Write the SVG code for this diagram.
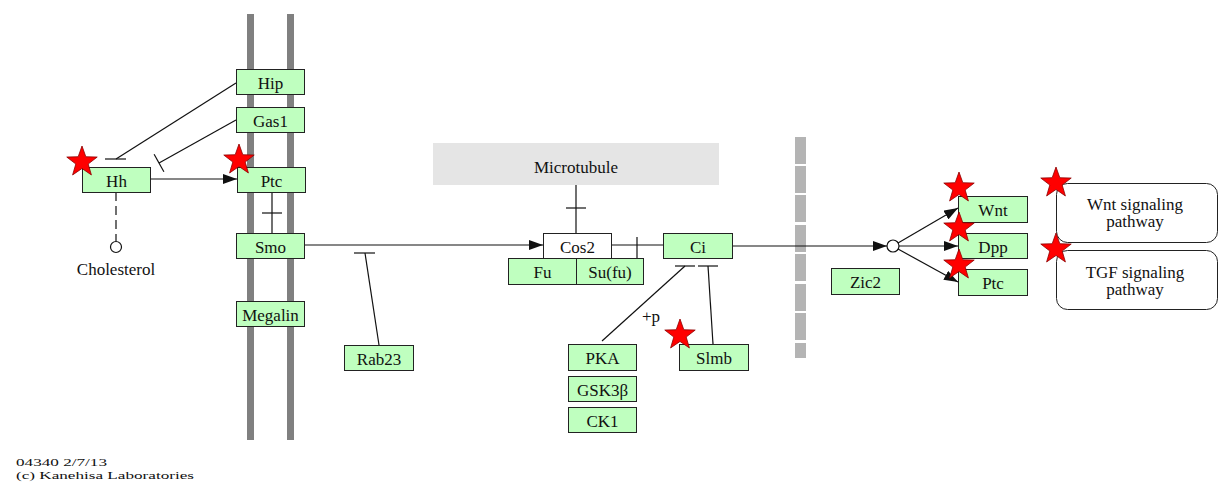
<svg xmlns="http://www.w3.org/2000/svg" width="1221" height="488" viewBox="0 0 1221 488">
  <style>
    .gene rect { fill: #bfffbf; stroke: #222; stroke-width: 1; }
    .plain rect { fill: #ffffff; stroke: #222; stroke-width: 1; }
    .path rect { fill: #ffffff; stroke: #222; stroke-width: 1; }
    text { font-family: "Liberation Serif", "Times New Roman", serif; font-size: 17px; fill: #111; }
    .lbl { text-anchor: middle; }
    .edge { stroke: #111; stroke-width: 1.2; fill: none; }
    .bar { stroke: #111; stroke-width: 1.2; }
    .star { fill: #ff0000; stroke: #8a0000; stroke-width: 0.8; }
    .foot { font-size: 11px; }
  </style>
  <defs>
    <marker id="arrow" markerUnits="userSpaceOnUse" markerWidth="14" markerHeight="10" refX="14" refY="5" orient="auto">
      <path d="M0,0 L14,5 L0,10 Z" fill="#111"/>
    </marker>
    <polygon id="star" class="star" points="0,-16 3.82,-5.26 15.22,-4.94 6.18,2.01 9.4,12.94 0,6.5 -9.4,12.94 -6.18,2.01 -15.22,-4.94 -3.82,-5.26"/>
  </defs>

  <rect width="1221" height="488" fill="#ffffff"/>

  <!-- cell membrane -->
  <g id="membrane" fill="#808080">
    <rect x="247" y="14" width="7" height="426"/>
    <rect x="287" y="14" width="7" height="426"/>
  </g>

  <!-- nuclear envelope -->
  <g id="nucleus" fill="#b4b4b4">
    <rect x="795" y="137" width="11" height="27"/>
    <rect x="795" y="166" width="11" height="27"/>
    <rect x="795" y="195" width="11" height="27"/>
    <rect x="795" y="225" width="11" height="27"/>
    <rect x="795" y="254" width="11" height="27"/>
    <rect x="795" y="284" width="11" height="27"/>
    <rect x="795" y="313" width="11" height="27"/>
    <rect x="795" y="343" width="11" height="15"/>
  </g>

  <!-- microtubule -->
  <g id="microtubule">
    <rect x="433" y="143" width="286" height="42" fill="#e5e5e5"/>
    <text class="lbl" x="576" y="173">Microtubule</text>
  </g>

  <!-- connectors -->
  <g id="connectors">
    <!-- Hip -| Hh -->
    <line class="edge" x1="236" y1="83" x2="116" y2="159"/>
    <line class="bar" x1="105" y1="159" x2="126" y2="159"/>
    <!-- Gas1 -| -->
    <line class="edge" x1="236" y1="120" x2="159" y2="163"/>
    <line class="bar" x1="154.1" y1="154.3" x2="163.9" y2="171.7"/>
    <!-- Hh -> Ptc -->
    <line class="edge" x1="150" y1="179" x2="237" y2="179" marker-end="url(#arrow)"/>
    <!-- Hh - - Cholesterol -->
    <line class="edge" x1="116" y1="192" x2="116" y2="241" stroke-dasharray="9,5"/>
    <circle cx="116" cy="247" r="5.5" fill="#fff" stroke="#111" stroke-width="1.2"/>
    <!-- Ptc -+- Smo -->
    <line class="edge" x1="272" y1="192" x2="272" y2="233"/>
    <line class="bar" x1="262" y1="213" x2="282" y2="213"/>
    <!-- Smo -> Cos2 -->
    <line class="edge" x1="304" y1="245" x2="543" y2="245" marker-end="url(#arrow)"/>
    <!-- Rab23 -| -->
    <line class="edge" x1="379" y1="345" x2="365" y2="253"/>
    <line class="bar" x1="354" y1="253" x2="375" y2="253"/>
    <!-- Microtubule -+- Cos2 -->
    <line class="edge" x1="576" y1="185" x2="576" y2="233"/>
    <line class="bar" x1="566" y1="208" x2="586" y2="208"/>
    <!-- Cos2 -| Ci -->
    <line class="edge" x1="611" y1="245" x2="663" y2="245"/>
    <line class="bar" x1="637" y1="237" x2="637" y2="258"/>
    <!-- PKA -| Ci (+p) -->
    <line class="edge" x1="602" y1="341" x2="685" y2="266"/>
    <line class="bar" x1="675" y1="266" x2="695" y2="266"/>
    <text x="642" y="322">+p</text>
    <!-- Slmb -| Ci -->
    <line class="edge" x1="713" y1="344" x2="708" y2="266"/>
    <line class="bar" x1="698" y1="266" x2="718" y2="266"/>
    <!-- Ci -> target genes -->
    <line class="edge" x1="732" y1="246" x2="887" y2="246" marker-end="url(#arrow)"/>
    <circle cx="893" cy="246" r="6" fill="#fff" stroke="#111" stroke-width="1.2"/>
    <line class="edge" x1="898" y1="243" x2="958" y2="208" marker-end="url(#arrow)"/>
    <line class="edge" x1="899" y1="246" x2="958" y2="246" marker-end="url(#arrow)"/>
    <line class="edge" x1="898" y1="249" x2="958" y2="282" marker-end="url(#arrow)"/>
  </g>

  <!-- nodes -->
  <g id="hip" class="gene"><rect x="236.5" y="69.5" width="68" height="25"/><text class="lbl" x="270.5" y="89">Hip</text></g>
  <g id="gas1" class="gene"><rect x="236.5" y="107.5" width="68" height="25"/><text class="lbl" x="270.5" y="127">Gas1</text></g>
  <g id="hh" class="gene"><rect x="82.5" y="167.5" width="68" height="25"/><text class="lbl" x="116.5" y="187">Hh</text></g>
  <g id="ptc-membrane" class="gene"><rect x="237.5" y="167.5" width="68" height="25"/><text class="lbl" x="271.5" y="187">Ptc</text></g>
  <g id="smo" class="gene"><rect x="236.5" y="233.5" width="68" height="25"/><text class="lbl" x="270.5" y="253">Smo</text></g>
  <g id="megalin" class="gene"><rect x="236.5" y="301.5" width="68" height="25"/><text class="lbl" x="270.5" y="321">Megalin</text></g>
  <g id="rab23" class="gene"><rect x="344.5" y="345.5" width="69" height="25"/><text class="lbl" x="379" y="365">Rab23</text></g>
  <g id="cos2" class="plain"><rect x="543.5" y="233.5" width="68" height="25"/><text class="lbl" x="577.5" y="253">Cos2</text></g>
  <g id="fu" class="gene"><rect x="508.5" y="258.5" width="68" height="26"/><text class="lbl" x="542.5" y="278">Fu</text></g>
  <g id="sufu" class="gene"><rect x="576.5" y="258.5" width="67" height="26"/><text class="lbl" x="610" y="278">Su(fu)</text></g>
  <g id="ci" class="gene"><rect x="663.5" y="233.5" width="69" height="25"/><text class="lbl" x="698" y="253">Ci</text></g>
  <g id="pka" class="gene"><rect x="568.5" y="344.5" width="68" height="26"/><text class="lbl" x="602.5" y="364">PKA</text></g>
  <g id="gsk3b" class="gene"><rect x="568.5" y="376.5" width="68" height="25"/><text class="lbl" x="602.5" y="396">GSK3β</text></g>
  <g id="ck1" class="gene"><rect x="568.5" y="407.5" width="68" height="25"/><text class="lbl" x="602.5" y="427">CK1</text></g>
  <g id="slmb" class="gene"><rect x="679.5" y="344.5" width="69" height="26"/><text class="lbl" x="714" y="364">Slmb</text></g>
  <g id="zic2" class="gene"><rect x="831.5" y="268.5" width="68" height="26"/><text class="lbl" x="865.5" y="288">Zic2</text></g>
  <g id="wnt" class="gene"><rect x="958.5" y="196.5" width="69" height="26"/><text class="lbl" x="993" y="216">Wnt</text></g>
  <g id="dpp" class="gene"><rect x="958.5" y="233.5" width="69" height="25"/><text class="lbl" x="993" y="253">Dpp</text></g>
  <g id="ptc-target" class="gene"><rect x="958.5" y="269.5" width="69" height="26"/><text class="lbl" x="993" y="289">Ptc</text></g>
  <g id="cholesterol"><text class="lbl" x="116" y="275">Cholesterol</text></g>
  <g id="wnt-pathway" class="path"><rect x="1056.5" y="183.5" width="161" height="59" rx="11"/><text class="lbl" x="1135" y="210">Wnt signaling</text><text class="lbl" x="1135" y="227">pathway</text></g>
  <g id="tgf-pathway" class="path"><rect x="1056.5" y="250.5" width="161" height="59" rx="11"/><text class="lbl" x="1135" y="278">TGF signaling</text><text class="lbl" x="1135" y="295">pathway</text></g>

  <!-- highlight marks -->
  <g id="marks">
    <use href="#star" x="82" y="162"/>
    <use href="#star" x="239" y="160"/>
    <use href="#star" x="680" y="335"/>
    <use href="#star" x="959" y="188"/>
    <use href="#star" x="959" y="228"/>
    <use href="#star" x="959" y="265"/>
    <use href="#star" x="1056" y="183"/>
    <use href="#star" x="1056" y="249"/>
  </g>

  <!-- footer -->
  <g id="footer">
    <text class="foot" x="16" y="466" textLength="91" lengthAdjust="spacingAndGlyphs">04340 2/7/13</text>
    <text class="foot" x="16" y="479" textLength="178" lengthAdjust="spacingAndGlyphs">(c) Kanehisa Laboratories</text>
  </g>
</svg>
